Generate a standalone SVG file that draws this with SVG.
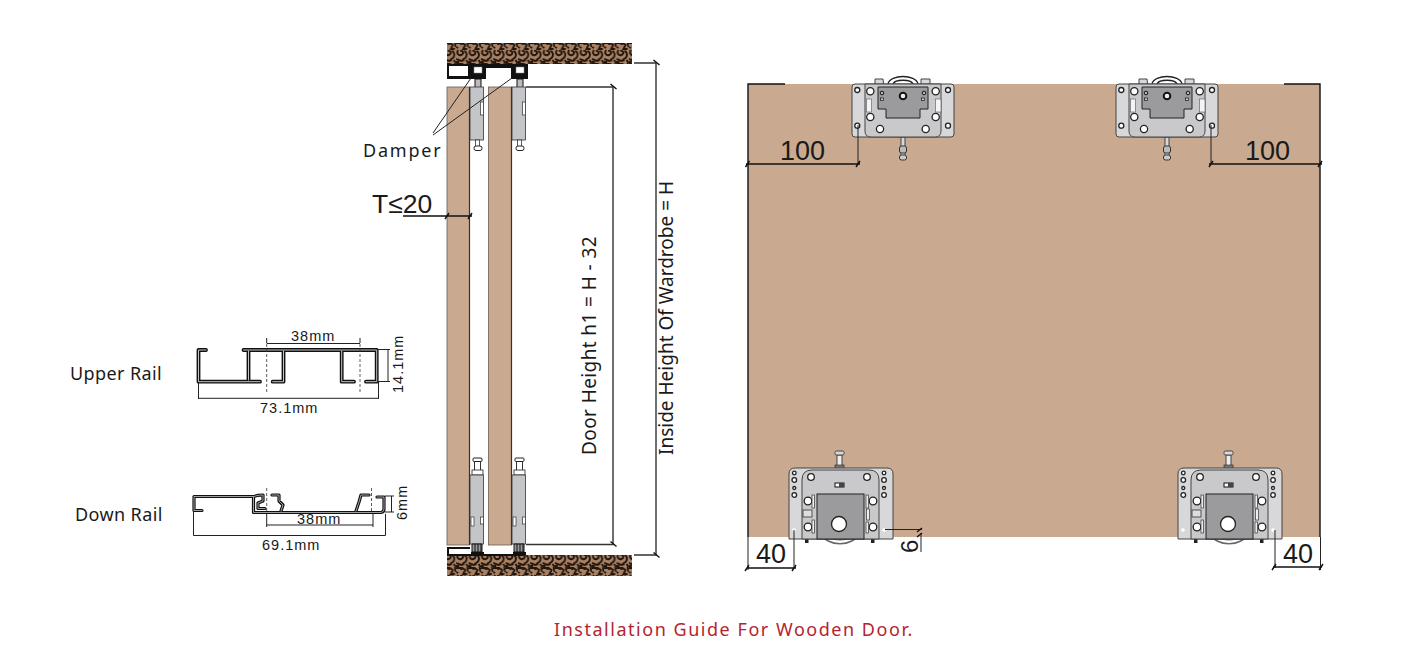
<svg xmlns="http://www.w3.org/2000/svg" width="1408" height="661" viewBox="0 0 1408 661">
<style>
text{font-family:"Noto Sans","Liberation Sans",sans-serif;fill:#1a1a1a}
.ar{font-family:"Liberation Sans",Arial,sans-serif}
.dim{stroke:#222;stroke-width:1;fill:none}
.dimh{stroke:#111;stroke-width:1.4;fill:none}
.dash{stroke:#333;stroke-width:.8;stroke-dasharray:3 2;fill:none}
.rail{stroke:#111;stroke-width:3.800;fill:none;stroke-linejoin:round;stroke-linecap:round}
.railin{stroke:#c4c4c4;stroke-width:1;fill:none;stroke-linejoin:round;stroke-linecap:round}
.door{fill:#c9a98f;stroke:#6b5d52;stroke-width:.8}
.body{fill:#c4c5c8;stroke:#333;stroke-width:.8}
.wh{fill:#fff;stroke:#222;stroke-width:1.3}
.plate{fill:#d8d8da;stroke:#444;stroke-width:1}
.inner{fill:#c9c9cc;stroke:#444;stroke-width:1}
.gray{fill:#9b9b9e;stroke:#222;stroke-width:1}
.sm{font-size:14.500px;letter-spacing:1px}
.big{font-size:27px}
</style>
<defs>
<pattern id="stone" width="12.33" height="21" patternUnits="userSpaceOnUse">
<rect width="12.33" height="21" fill="#a98062"/>
<path d="M0 1h6l3 2-2 4h4M11 0l1 5M2 8c-2 3 0 6 3 5s2-5-1-4M8 9c3 1 3 5 1 7l-3 2M0 17l5 2 3-1M10 18l2 3M5 0v3M0 5l2 1M0 20h3" fill="none" stroke="#21170f" stroke-width="1.900"/>
</pattern>
<path id="upperP" d="M206 350H198.500V381.700H260M248.500 351V380M243.500 350H376.700V381.700H366M283.500 351V381.700H272.700M341.700 351V381.700H354"/>
<path id="downP" d="M202 510.500H194V496.500H253.500V512.500H381Q384 512 384 509V497H377M253.500 497Q256 495 263 495V501L258 503V508.500H265M272 495H279V501L283 505L281 511M369 495H361L359 502L356 511"/>
<g id="topBracket">
<path class="wh" d="M36 0c2-10 28-10 30 0" stroke-width="1.800"/>
<path class="wh" d="M41 0c2-5 18-5 20 0" stroke-width=".8"/>
<path class="plate" d="M23-5h8l1 8h-9zM69-5h9v8h-9z"/>
<rect class="plate" x="49" y="53" width="4" height="20"/>
<rect x="47.500" y="62" width="7" height="7" rx="2" fill="#bbb" stroke="#333"/>
<rect x="47.500" y="71" width="7" height="5" rx="2" fill="#ccc" stroke="#333"/>
<rect class="plate" width="102" height="53" rx="3"/>
<path class="inner" d="M13 0H89V47Q89 53 83 53H19Q13 53 13 47Z"/>
<path class="gray" d="M26 3H76V25H68V34H34V25H26Z"/>
<circle class="wh" cx="5.300" cy="6" r="2.500"/><circle class="wh" cx="96" cy="6" r="2.500"/>
<circle class="wh" cx="5.300" cy="41.700" r="2.500"/><circle class="wh" cx="96" cy="41.700" r="2.500"/>
<circle class="wh" cx="18.300" cy="7.300" r="3.600"/><circle class="wh" cx="83.700" cy="7.300" r="3.600"/>
<circle class="wh" cx="18.300" cy="33" r="3.600"/><circle class="wh" cx="83.700" cy="33" r="3.600"/>
<circle class="wh" cx="28" cy="45" r="3.600"/><circle class="wh" cx="73.700" cy="45" r="3.600"/>
<circle cx="51" cy="12" r="3.300" fill="#eee" stroke="#111" stroke-width="2"/>
<circle cx="30" cy="9" r="1.800" fill="#bbb" stroke="#111"/><circle cx="72" cy="9" r="1.800" fill="#bbb" stroke="#111"/>
<rect x="28.500" y="14" width="3" height="2.500" fill="#ccc" stroke="#111" stroke-width=".7"/><rect x="69.500" y="14" width="3" height="2.500" fill="#ccc" stroke="#111" stroke-width=".7"/>
<rect x="14.500" y="15" width="5" height="13" fill="#f4f4f4" stroke="#555" stroke-width=".6"/>
<rect x="83.500" y="15" width="5.500" height="13" fill="#f4f4f4" stroke="#555" stroke-width=".6"/>
</g>
<g id="bottomBracket">
<rect x="48" y="-13" width="5" height="12" fill="#eee" stroke="#444"/>
<rect class="plate" x="46" y="-17" width="9" height="4" rx="1.500"/>
<rect x="46" y="-3" width="9" height="4" fill="#777" stroke="#333" stroke-width=".7"/>
<path d="M33 66c4 13 32 13 36 0" fill="#fff" stroke="#666" stroke-width="1.600"/>
<path d="M37 66c4 8 24 8 28 0" fill="none" stroke="#777"/>
<rect x="16" y="69" width="3.500" height="6" fill="#222"/><rect x="82" y="69" width="3.500" height="6" fill="#222"/>
<path class="plate" d="M0 71V6Q0 0 6 0H98Q104 0 104 6V71Z"/>
<path class="inner" d="M13 71V12Q13 2 23 2H80Q90 2 90 12V71Z"/>
<rect class="gray" x="28" y="26" width="47" height="45"/>
<rect x="46" y="15" width="9" height="4" fill="#fff" stroke="#111"/><rect x="50" y="15" width="5" height="4" fill="#444"/>
<circle class="wh" cx="50" cy="56" r="7.500" stroke-width="2"/>
<circle class="wh" cx="22" cy="9" r="3.300" stroke-width="1.600"/><circle class="wh" cx="78" cy="9" r="3.300" stroke-width="1.600"/>
<circle class="wh" cx="5.300" cy="5" r="1.800"/><circle class="wh" cx="5.300" cy="12" r="2.300"/><circle class="wh" cx="5.300" cy="20" r="1.500"/><circle class="wh" cx="5.300" cy="27" r="2.300"/>
<circle class="wh" cx="95" cy="5" r="1.800"/><circle class="wh" cx="95" cy="12" r="2.300"/><circle class="wh" cx="95" cy="20" r="1.500"/><circle class="wh" cx="95" cy="27" r="2.300"/>
<circle cx="5" cy="62" r="1.800" fill="#fff"/><circle cx="95" cy="62" r="1.800" fill="#fff"/>
<circle class="wh" cx="19" cy="33" r="3.800" stroke-width="1.800"/><circle class="wh" cx="84" cy="33" r="3.800" stroke-width="1.800"/>
<circle class="wh" cx="19" cy="59" r="3.800" stroke-width="1.800"/><circle class="wh" cx="84" cy="59" r="3.800" stroke-width="1.800"/>
<rect x="23" y="27" width="2.500" height="13" fill="#eee" stroke="#333" stroke-width=".7"/><rect x="77" y="27" width="2.500" height="13" fill="#eee" stroke="#333" stroke-width=".7"/>
<rect x="14" y="42" width="9" height="7" fill="#ddd" stroke="#333" stroke-width=".8"/>
<rect x="77.500" y="41" width="3" height="11" fill="#eee" stroke="#333" stroke-width=".7"/>
<rect x="23" y="52" width="2.500" height="13" fill="#eee" stroke="#333" stroke-width=".7"/><rect x="77" y="54" width="2.500" height="11" fill="#eee" stroke="#333" stroke-width=".7"/>
</g>
<g id="topHw">
<rect x="5" y="-8" width="6" height="9" fill="#bbb" stroke="#111" stroke-width="1"/>
<rect class="body" x="0" y="0" width="13.500" height="53"/>
<rect x="10.500" y="15" width="3" height="13" fill="#fff" stroke="#333" stroke-width=".7"/>
<rect x="5.500" y="53" width="4" height="7" fill="#fff" stroke="#333" stroke-width=".8"/>
<rect x="4" y="59" width="8" height="4.500" rx="2" fill="#fff" stroke="#222" stroke-width="1"/>
</g>
<g id="botHw">
<rect x="3" y="-17" width="9" height="3.500" rx="1" fill="#fff" stroke="#222" stroke-width="1"/>
<path d="M4.500-14v11M10.500-14v11" stroke="#333" stroke-width="1"/>
<rect x="2" y="-5" width="11" height="5" fill="#fff" stroke="#222" stroke-width=".8"/>
<rect class="body" x="0" y="0" width="13.500" height="69"/>
<rect x="1" y="42" width="3" height="9" fill="#fff" stroke="#333" stroke-width=".7"/>
<rect x="10.500" y="42" width="3" height="7" fill="#fff" stroke="#333" stroke-width=".7"/>
<path d="M2 69h10v8H2zM5 69v8M8 69v8M11 69v8" fill="#999" stroke="#111" stroke-width="1"/>
<rect x="1" y="77" width="13" height="3" fill="#111"/>
</g>
</defs>

<g id="panel">
<rect x="748" y="84" width="572" height="453" fill="#c9a98f"/>
<path d="M785 84H748V537" fill="none" stroke="#111" stroke-width="1.400"/>
<path d="M1284 84H1320V537" fill="none" stroke="#111" stroke-width="1.400"/>
</g>
<g id="bracket-top-left"><use href="#topBracket" x="852" y="84"/></g>
<g id="bracket-top-right"><use href="#topBracket" x="1116" y="84"/></g>
<g id="bracket-bottom-left"><use href="#bottomBracket" x="789" y="468"/></g>
<g id="bracket-bottom-right"><use href="#bottomBracket" x="1178" y="468"/></g>

<g id="section">
<rect x="447" y="43" width="185" height="21" fill="url(#stone)"/>
<rect x="447" y="555" width="185" height="21" fill="url(#stone)"/>
<rect class="door" x="447" y="87" width="22.500" height="458"/>
<rect class="door" x="488.500" y="87" width="23" height="458"/>
<path d="M469.500 87V545M511.500 87V545" stroke="#333" stroke-width="1.200"/>
<use href="#topHw" x="470" y="87"/>
<use href="#topHw" x="512" y="87"/>
<use href="#botHw" x="470" y="475"/>
<use href="#botHw" x="512" y="475"/>
<path d="M447 64H528V79H511V68H486V79H469H447Z" fill="#111"/>
<rect x="449" y="66" width="19" height="10" fill="#fff"/>
<rect x="474" y="67" width="8" height="6" fill="#fff" stroke="#888" stroke-width=".5"/>
<rect x="516" y="67" width="8" height="6" fill="#fff" stroke="#888" stroke-width=".5"/>
<path d="M470 548H448V555H523" fill="none" stroke="#111" stroke-width="2"/>
</g>

<g id="upper-rail">
<use href="#upperP" class="rail"/>
<use href="#upperP" class="railin"/>
</g>
<g id="down-rail">
<use href="#downP" class="rail" style="stroke-width:3.200"/>
<use href="#downP" class="railin" style="stroke-width:.8"/>
</g>

<g id="connectors">
<path class="dim" d="M433 133L471 78M433 135L512 78"/>
<path class="dimh" d="M403 216H472M445 219l4-6M468 219l4-6"/>
<path class="dim" d="M266.700 343.500H360M198.500 398.300H378.500M198.500 382V399M378.500 382V399M377 349.500H390M377 381.500H390M388 349.500V382M266.700 338V343M360 338V343"/>
<path class="dash" d="M266.700 344V393M360 344V393"/>
<path class="dim" d="M193.500 512V535.500H385.500V514M266.700 514V527M373 514V527M266.700 525H373M391.500 496V512M385 496H394M385 512H394"/>
<path class="dash" d="M266.700 488V512M371.500 488V512"/>
<path class="dim" style="stroke:#333;stroke-width:1.400" d="M634 63H656V555H634M526 87H613V544.500H526"/>
<path class="dimh" d="M653.500 60l6 5M653.500 552.500l6 5M610.500 84l6 5M610.500 541.500l6 5"/>
<path class="dim" d="M858 125V164M1211 125V164M794 530V568M1275 530V568M748 537V570M1320.500 537V570M885 529.500H922M921 533V552"/>
<path class="dimh" d="M746 164H860M1209 164H1322M747 568H796M1273 567H1322M745.500 167l4-6M856 167l4-6M1209 167l4-6M1318 167l4-6M745 571l4-6M792 571l4-6M1272 570l4-6M1319 570l4-6M917 532l5-4M917 537l5-4"/>
</g>

<g id="labels">
<text x="70" y="380" font-size="18" letter-spacing=".4">Upper Rail</text>
<text x="75" y="521" font-size="18" letter-spacing=".4">Down Rail</text>
<text x="363" y="157" font-size="18" letter-spacing="1.800">Damper</text>
<text x="372" y="213" font-size="26.500" class="ar">T≤20</text>
<text x="291" y="341" class="ar sm">38mm</text>
<text x="260" y="413" class="ar sm">73.1mm</text>
<text transform="translate(403 393) rotate(-90)" class="ar sm">14.1mm</text>
<text x="297" y="524" class="ar sm">38mm</text>
<text x="262" y="550" class="ar sm">69.1mm</text>
<text transform="translate(407 520) rotate(-90)" class="ar sm">6mm</text>
<text transform="translate(596 455) rotate(-90)" font-size="19" letter-spacing=".4">Door Height h1 = H - 32</text>
<text transform="translate(673 455) rotate(-90)" font-size="19">Inside Height Of Wardrobe = H</text>
<text x="780" y="160" class="ar big">100</text>
<text x="1245" y="160" class="ar big">100</text>
<text x="756" y="563" class="ar big">40</text>
<text x="1283" y="563" class="ar big">40</text>
<text transform="translate(918 553) rotate(-90)" class="ar" font-size="24">6</text>
<text x="554" y="636" font-size="18" letter-spacing="1.530" style="fill:#b5232f">Installation Guide For Wooden Door.</text>
</g>
</svg>
